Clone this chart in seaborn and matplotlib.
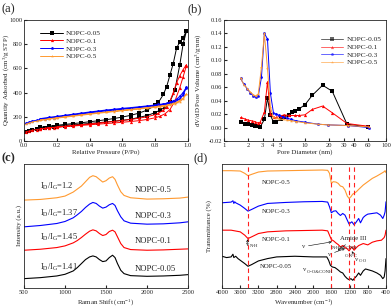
import numpy as np
import pandas as pd
import seaborn as sns
import matplotlib.pyplot as plt
from matplotlib.ticker import FixedLocator, FixedFormatter, NullLocator

sns.set_style('ticks')
plt.rcParams['font.family'] = ['Liberation Serif', 'DejaVu Serif']
plt.rcParams['mathtext.fontset'] = 'custom'
plt.rcParams['mathtext.rm'] = 'Liberation Serif'
plt.rcParams['mathtext.it'] = 'Liberation Serif:italic'
plt.rcParams['font.size'] = 5
plt.rcParams['xtick.labelsize'] = 4.7
plt.rcParams['ytick.labelsize'] = 4.7
plt.rcParams['xtick.direction'] = 'in'
plt.rcParams['ytick.direction'] = 'in'
plt.rcParams['xtick.major.size'] = 2
plt.rcParams['ytick.major.size'] = 2
plt.rcParams['xtick.major.pad'] = 1.2
plt.rcParams['ytick.major.pad'] = 1.2
plt.rcParams['axes.linewidth'] = 0.6

samples = ['NOPC-0.05', 'NOPC-0.1', 'NOPC-0.3', 'NOPC-0.5']
colors = ['#000000', '#ff0000', '#0000ff', '#ff9a30']
markers = ['s', '^', 'p', '*']

# (a) N2 isotherms
ads_p = [0.01, 0.03, 0.05, 0.08, 0.10, 0.13, 0.15, 0.18, 0.20, 0.25, 0.30, 0.35, 0.40, 0.45,
         0.50, 0.55, 0.60, 0.65, 0.70, 0.75, 0.80, 0.83, 0.86, 0.89, 0.92, 0.95, 0.97, 0.99]
des_p = [0.99, 0.97, 0.95, 0.93, 0.91, 0.89, 0.87, 0.85, 0.82, 0.80, 0.75, 0.70, 0.65, 0.60,
         0.55, 0.50, 0.45, 0.40, 0.35, 0.30, 0.25, 0.20, 0.15, 0.10]
ads_q = {
    'NOPC-0.05': [75, 85, 92, 100, 104, 110, 113, 118, 121, 127, 133, 139, 145, 151, 157, 164, 171,
                  179, 195, 210, 235, 255, 280, 325, 420, 630, 800, 905],
    'NOPC-0.1': [75, 82, 88, 95, 99, 104, 107, 111, 114, 119, 124, 129, 134, 139, 144, 149, 155,
                 161, 168, 178, 192, 205, 225, 260, 330, 440, 530, 620],
    'NOPC-0.3': [145, 155, 165, 172, 178, 184, 188, 193, 197, 206, 215, 223, 232, 240, 248, 255, 262,
                 268, 275, 282, 290, 296, 303, 312, 325, 350, 380, 440],
    'NOPC-0.5': [138, 148, 157, 165, 170, 176, 180, 185, 189, 197, 205, 213, 221, 229, 236, 243, 250,
                 257, 264, 271, 278, 284, 290, 298, 308, 325, 350, 390],
}
des_q = {
    'NOPC-0.05': [912, 850, 820, 766, 640, 545, 450, 385, 320, 295, 255, 230, 212, 198, 186, 176,
                  167, 159, 151, 144, 137, 130, 122, 113],
    'NOPC-0.1': [630, 590, 540, 480, 400, 330, 280, 255, 230, 218, 200, 188, 178, 170, 162, 155,
                 148, 141, 135, 129, 122, 115, 108, 100],
    'NOPC-0.3': [445, 400, 370, 345, 330, 320, 312, 307, 302, 298, 290, 283, 276, 270, 263, 256,
                 248, 240, 231, 222, 213, 204, 195, 185],
    'NOPC-0.5': [385, 355, 335, 320, 310, 303, 297, 293, 288, 284, 276, 268, 261, 254, 247, 240,
                 233, 225, 217, 209, 201, 192, 183, 174],
}

# (b) pore size distribution
psd_d = {
    'NOPC-0.05': [1.6, 1.8, 2.0, 2.2, 2.4, 2.6, 2.8, 3.15, 3.44, 3.74, 4.1, 4.4, 5.0, 5.5, 6.3, 6.9,
                  7.6, 8.5, 10, 12.3, 16.5, 21.7, 33, 60],
    'NOPC-0.1': [1.6, 1.8, 2.0, 2.2, 2.4, 2.6, 2.8, 3.15, 3.44, 3.74, 4.1, 4.4, 5.0, 5.5, 6.3, 7.6,
                 8.5, 10, 12.3, 16.5, 21.7, 33, 60],
    'NOPC-0.3': [1.6, 1.75, 1.95, 2.1, 2.3, 2.45, 2.65, 2.9, 3.15, 3.44, 3.74, 4.08, 4.4, 4.8, 5.3,
                 6.0, 6.8, 7.8, 10, 14.5, 19.4, 34, 62],
    'NOPC-0.5': [1.6, 1.75, 1.95, 2.1, 2.3, 2.45, 2.65, 2.9, 3.15, 3.44, 3.74, 4.08, 4.4, 4.8, 5.3,
                 6.0, 6.8, 7.8, 10, 14.5, 19.4, 34, 62],
}
psd_v = {
    'NOPC-0.05': [0.008, 0.006, 0.005, 0.004, 0.003, 0.002, 0.001, 0.012, 0.044, 0.018, 0.008, 0.009,
                  0.012, 0.015, 0.019, 0.023, 0.025, 0.028, 0.034, 0.048, 0.063, 0.054, 0.005, 0.001],
    'NOPC-0.1': [0.015, 0.013, 0.011, 0.010, 0.009, 0.007, 0.008, 0.023, 0.068, 0.020, 0.015, 0.015,
                 0.017, 0.019, 0.018, 0.018, 0.018, 0.019, 0.027, 0.032, 0.022, 0.006, 0.002],
    'NOPC-0.3': [0.073, 0.065, 0.057, 0.052, 0.047, 0.045, 0.047, 0.075, 0.140, 0.132, 0.051, 0.022,
                 0.020, 0.018, 0.016, 0.014, 0.012, 0.010, 0.008, 0.005, 0.004, 0.003, 0.000],
    'NOPC-0.5': [0.074, 0.064, 0.058, 0.053, 0.049, 0.047, 0.050, 0.090, 0.140, 0.088, 0.030, 0.015,
                 0.014, 0.013, 0.012, 0.011, 0.010, 0.009, 0.007, 0.005, 0.004, 0.003, 0.001],
}

# (c) Raman spectra (offset, a.u.)
raman_x = [500, 700, 900, 1000, 1100, 1150, 1200, 1250, 1300, 1340, 1380, 1420, 1460, 1500, 1540,
           1580, 1610, 1640, 1680, 1720, 1800, 2000, 2200, 2400, 2500]
raman_y = {
    'NOPC-0.05': [28, 31, 36, 41, 51, 61, 73, 85, 93, 96, 93, 85, 79, 81, 91, 98, 91, 73, 53, 43,
                  37, 35, 36, 38, 40],
    'NOPC-0.1': [113, 116, 121, 126, 135, 142, 151, 161, 170, 174, 171, 163, 157, 160, 169, 173, 168,
                 153, 133, 121, 115, 113, 114, 116, 117],
    'NOPC-0.3': [183, 187, 193, 199, 210, 219, 229, 241, 251, 256, 253, 245, 239, 242, 249, 253, 247,
                 231, 213, 201, 194, 191, 192, 195, 198],
    'NOPC-0.5': [263, 265, 270, 275, 287, 296, 305, 318, 331, 336, 333, 325, 317, 321, 329, 333, 325,
                 308, 288, 277, 270, 266, 267, 269, 272],
}
id_ig = {'NOPC-0.05': '1.41', 'NOPC-0.1': '1.45', 'NOPC-0.3': '1.37', 'NOPC-0.5': '1.2'}

# (d) FTIR spectra (offset, %)
ftir_x = {
    'NOPC-0.05': [4000, 3900, 3800, 3760, 3740, 3700, 3650, 3600, 3500, 3430, 3350, 3200, 3000, 2800,
                  2400, 2000, 1700, 1660, 1620, 1580, 1520, 1460, 1400, 1350, 1300, 1250, 1210, 1170,
                  1130, 1100, 1050, 1000, 960, 900, 850, 800, 700, 600, 520, 470, 440, 420, 400],
    'NOPC-0.1': [4000, 3800, 3600, 3500, 3430, 3350, 3200, 3000, 2600, 2200, 1800, 1680, 1640, 1600,
                 1550, 1500, 1450, 1400, 1350, 1300, 1250, 1210, 1180, 1150, 1100, 1050, 1000, 900,
                 800, 700, 600, 500, 440, 420, 400],
    'NOPC-0.3': [4000, 3900, 3800, 3760, 3740, 3720, 3700, 3600, 3500, 3430, 3350, 3200, 3000, 2600,
                 2200, 1800, 1680, 1640, 1600, 1550, 1500, 1450, 1400, 1350, 1300, 1250, 1210, 1180,
                 1150, 1100, 1050, 1000, 960, 900, 850, 800, 700, 600, 520, 470, 440, 420, 400],
    'NOPC-0.5': [4000, 3800, 3600, 3500, 3430, 3350, 3200, 3000, 2600, 2200, 1800, 1680, 1640, 1600,
                 1560, 1500, 1450, 1400, 1350, 1300, 1250, 1210, 1170, 1130, 1100, 1050, 1000, 900,
                 800, 700, 600, 500, 440, 420, 400],
}
ftir_t = {
    'NOPC-0.05': [95, 91, 93, 101, 91, 95, 88, 83, 73, 65, 70, 81, 88, 93, 95, 93, 93, 83, 68, 63,
                  61, 55, 48, 45, 35, 28, 25, 28, 23, 28, 35, 45, 38, 51, 57, 55, 51, 45, 38, 28, 33,
                  51, 88],
    'NOPC-0.1': [173, 173, 168, 158, 148, 153, 163, 168, 171, 172, 173, 171, 158, 145, 141, 135, 130,
                 123, 127, 121, 117, 111, 117, 123, 113, 121, 127, 133, 129, 137, 141, 143, 151, 158,
                 173],
    'NOPC-0.3': [255, 256, 257, 261, 253, 258, 255, 248, 238, 230, 235, 245, 253, 256, 258, 259, 257,
                 243, 225, 230, 231, 223, 217, 223, 218, 203, 191, 195, 198, 189, 198, 208, 195, 211,
                 217, 221, 223, 225, 218, 208, 218, 228, 258],
    'NOPC-0.5': [351, 351, 350, 343, 336, 340, 347, 350, 351, 352, 353, 352, 343, 313, 318, 317, 313,
                 305, 303, 293, 275, 268, 273, 281, 283, 288, 295, 308, 318, 328, 335, 343, 348, 351,
                 345],
}
ftir_peaks = [3430, 1600, 1210, 1100]

W, H = 392, 308
fig = plt.figure(figsize=(W / 100, H / 100), dpi=100)


def px_axes(l, t, r, b):
    return fig.add_axes([l / W, 1 - b / H, (r - l) / W, (b - t) / H])


def vlabel(ax, x, y, sub, arrow_to=None, size=4.7):
    # 'v' with a small subscript, optionally with an arrow to the curve
    if arrow_to is not None:
        t = ax.annotate('v', xy=arrow_to, xytext=(x, y), fontsize=size, va='center',
                        arrowprops=dict(arrowstyle='->', lw=0.4, color='k',
                                        shrinkA=0, shrinkB=0, mutation_scale=4))
    else:
        t = ax.text(x, y, 'v', fontsize=size, va='center')
    ax.annotate(sub, xy=(1, 0.15), xycoords=t, xytext=(0.2, 0), textcoords='offset points',
                fontsize=size * 0.72, va='center', ha='left')


ax_a = px_axes(24, 20, 188, 141)
ax_b = px_axes(224, 20, 386, 141)
ax_c = px_axes(24, 164, 188, 288)
ax_d = px_axes(222, 164, 386, 288)
palette = dict(zip(samples, colors))
mk = dict(zip(samples, markers))

# ---- (a)
rows = []
for s in samples:
    for p, q in zip(ads_p + des_p, ads_q[s] + des_q[s]):
        rows.append((s, p, q))
df_a = pd.DataFrame(rows, columns=['sample', 'p', 'q'])
sns.lineplot(data=df_a, x='p', y='q', hue='sample', style='sample', palette=palette,
             markers=mk, dashes=False, sort=False, estimator=None, lw=0.7,
             markersize=2.3, markeredgewidth=0, ax=ax_a)
ax_a.set_xlim(0, 1)
ax_a.set_ylim(0, 1000)
ax_a.set_xticks(np.arange(0, 1.01, 0.2))
ax_a.set_yticks(range(0, 1001, 200))
ax_a.set_xlabel('Relative Pressure (P/Po)')
ax_a.set_ylabel('Quantity Adsorbed (cm$^3$/g STP)')
ax_a.yaxis.set_label_coords(-0.077, 0.5)
ax_a.xaxis.set_label_coords(0.5, -0.065)
h, l = ax_a.get_legend_handles_labels()
ax_a.legend(h, l, frameon=False, loc='upper left', bbox_to_anchor=(0.06, 0.97),
            handlelength=3, labelspacing=0.2, handletextpad=0.4, fontsize=5.3)

# ---- (b)
rows = []
for s in samples:
    for d, v in zip(psd_d[s], psd_v[s]):
        rows.append((s, d, v))
df_b = pd.DataFrame(rows, columns=['sample', 'd', 'v'])
sns.lineplot(data=df_b, x='d', y='v', hue='sample', style='sample', palette=palette,
             markers=mk, dashes=False, sort=False, estimator=None, lw=0.7,
             markersize=2.3, markeredgewidth=0, ax=ax_b)
ax_b.set_xscale('log')
ax_b.set_xlim(1, 100)
ax_b.set_ylim(-0.02, 0.16)
bt = [1, 2, 3, 4, 5, 10, 20, 30, 40, 60, 100]
ax_b.xaxis.set_major_locator(FixedLocator(bt))
ax_b.xaxis.set_major_formatter(FixedFormatter([str(t) for t in bt]))
ax_b.xaxis.set_minor_locator(NullLocator())
ax_b.set_yticks(np.arange(-0.02, 0.161, 0.02))
ax_b.set_yticklabels(['%.2f' % t for t in np.arange(-0.02, 0.161, 0.02)])
ax_b.set_xlabel('Pore Diameter (nm)')
ax_b.set_ylabel('dV/dD Pore Volume (cm$^3$/g·nm)')
ax_b.yaxis.set_label_coords(-0.13, 0.5)
ax_b.xaxis.set_label_coords(0.5, -0.065)
h, l = ax_b.get_legend_handles_labels()
leg = ax_b.legend(h, l, frameon=False, loc='upper left', bbox_to_anchor=(0.56, 0.92),
                  handlelength=3, labelspacing=0.2, handletextpad=0.4, fontsize=5.3)
for ln in leg.get_lines():
    ln.set_alpha(0.6)

# ---- (c)
rows = []
for s in samples:
    for x, y in zip(raman_x, raman_y[s]):
        rows.append((s, x, y))
df_c = pd.DataFrame(rows, columns=['sample', 'x', 'y'])
sns.lineplot(data=df_c, x='x', y='y', hue='sample', palette=palette, sort=False,
             estimator=None, lw=0.8, legend=False, ax=ax_c)
ax_c.set_xlim(500, 2500)
ax_c.set_ylim(0, 371)
ax_c.set_xticks(range(500, 2501, 500))
ax_c.set_yticks([])
ax_c.set_xlabel('Raman Shift (cm$^{-1}$)')
ax_c.set_ylabel('Intensity (a.u.)')
ax_c.yaxis.set_label_coords(-0.012, 0.5)
ax_c.xaxis.set_label_coords(0.5, -0.07)
c_pos = {'NOPC-0.05': (63, 58), 'NOPC-0.1': (151, 141), 'NOPC-0.3': (223, 216), 'NOPC-0.5': (305, 293)}
for s in samples:
    yl, yr = c_pos[s]
    ax_c.text(695, yl, r'I$_\mathrm{D}$/I$_\mathrm{G}$=' + id_ig[s], fontsize=6, va='center')
    ax_c.text(1850, yr, s, fontsize=6.2, va='center')

# ---- (d)
rows = []
for s in samples:
    for x, y in zip(ftir_x[s], ftir_t[s]):
        rows.append((s, x, y))
df_d = pd.DataFrame(rows, columns=['sample', 'x', 'y'])
sns.lineplot(data=df_d, x='x', y='y', hue='sample', palette=palette, sort=False,
             estimator=None, lw=0.8, legend=False, ax=ax_d)
for pk in ftir_peaks:
    ax_d.axvline(pk, color='#ff2020', ls=(0, (4, 3)), lw=0.8)
ax_d.set_xlim(4000, 400)
ax_d.set_ylim(0, 371)
ax_d.set_xticks(range(4000, 399, -400))
ax_d.set_yticks([])
ax_d.set_xlabel('Wavenumber (cm$^{-1}$)')
ax_d.set_ylabel('Transmittance (%)')
ax_d.yaxis.set_label_coords(-0.06, 0.5)
ax_d.xaxis.set_label_coords(0.5, -0.07)
d_pos = {'NOPC-0.05': 63, 'NOPC-0.1': 145, 'NOPC-0.3': 228, 'NOPC-0.5': 316}
for s in samples:
    ax_d.text(2815, d_pos[s], s, fontsize=4.9, ha='center', va='center')
vlabel(ax_d, 3475, 130, 'N-H', arrow_to=(3440, 146))
vlabel(ax_d, 2244, 124, 'N-H&CONH', arrow_to=(1590, 138))
ax_d.annotate('Amide III', xy=(1460, 112), xytext=(1410, 147), fontsize=4.9, va='center',
              arrowprops=dict(arrowstyle='->', lw=0.4, color='k', shrinkA=0, shrinkB=0,
                              mutation_scale=4))
vlabel(ax_d, 1673, 101, 'C-N-C', arrow_to=(1300, 118))
vlabel(ax_d, 1080, 84, 'C-O', arrow_to=(1150, 110))
vlabel(ax_d, 2222, 54, 'C=O&CONH')

fig.text(2 / W, 1 - 9 / H, '(a)', fontsize=9, va='center')
fig.text(188 / W, 1 - 9 / H, '(b)', fontsize=9, va='center')
fig.text(2 / W, 1 - 158 / H, '(c)', fontsize=9, fontweight='bold', va='center')
fig.text(193 / W, 1 - 158 / H, '(d)', fontsize=9, va='center')

fig.savefig('out.png', dpi=100)
